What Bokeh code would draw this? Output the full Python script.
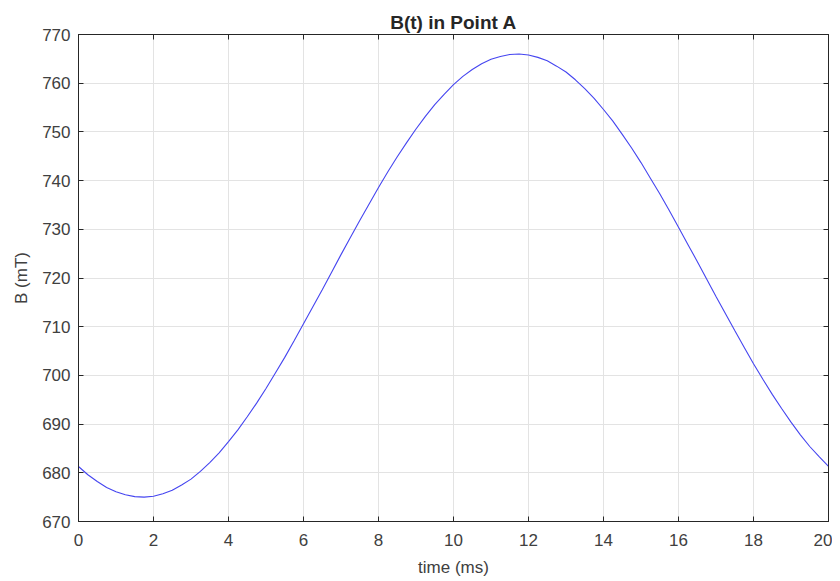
from bokeh.plotting import figure
from bokeh.models import LinearAxis, Range1d, FixedTicker, CustomJSTickFormatter
from bokeh.embed import file_html
from bokeh.resources import INLINE

time_ms = [0, 0.25, 0.5, 0.75, 1, 1.25, 1.5, 1.75, 2, 2.25, 2.5, 2.75, 3, 3.25, 3.5, 3.75,
           4, 4.25, 4.5, 4.75, 5, 5.25, 5.5, 5.75, 6, 6.25, 6.5, 6.75, 7, 7.25, 7.5, 7.75,
           8, 8.25, 8.5, 8.75, 9, 9.25, 9.5, 9.75, 10, 10.25, 10.5, 10.75, 11, 11.25, 11.5,
           11.75, 12, 12.25, 12.5, 12.75, 13, 13.25, 13.5, 13.75, 14, 14.25, 14.5, 14.75,
           15, 15.25, 15.5, 15.75, 16, 16.25, 16.5, 16.75, 17, 17.25, 17.5, 17.75, 18, 18.25,
           18.5, 18.75, 19, 19.25, 19.5, 19.75, 20]
b_mT = [681.3, 679.6, 678.2, 677.0, 676.1, 675.5, 675.1, 675.0, 675.2, 675.7, 676.4, 677.5,
        678.7, 680.3, 682.1, 684.1, 686.4, 688.8, 691.5, 694.3, 697.3, 700.5, 703.7, 707.1,
        710.6, 714.1, 717.6, 721.2, 724.8, 728.3, 731.8, 735.2, 738.6, 741.8, 744.9, 747.8,
        750.6, 753.2, 755.6, 757.7, 759.7, 761.4, 762.8, 764.0, 764.9, 765.5, 765.9, 766.0,
        765.8, 765.3, 764.6, 763.5, 762.3, 760.7, 758.9, 756.9, 754.6, 752.2, 749.5, 746.7,
        743.7, 740.5, 737.3, 733.9, 730.4, 726.9, 723.4, 719.8, 716.2, 712.7, 709.2, 705.8,
        702.4, 699.2, 696.1, 693.2, 690.4, 687.8, 685.4, 683.3, 681.3]
x_ticks = [0, 2, 4, 6, 8, 10, 12, 14, 16, 18, 20]
y_ticks = [670, 680, 690, 700, 710, 720, 730, 740, 750, 760, 770]

FONT = "Liberation Sans"
AX = "#262626"
LBL = "#404040"

p = figure(frame_width=750, frame_height=487, output_backend="svg", toolbar_location=None,
           x_range=Range1d(0, 20), y_range=Range1d(670, 770),
           min_border_left=78, min_border_right=4, min_border_top=34, min_border_bottom=59,
           title="B(t) in Point A")
p.title.align = "center"
p.title.text_font = FONT
p.title.text_font_size = "19px"
p.title.text_font_style = "bold"
p.title.text_color = AX
p.title.standoff = 4

p.outline_line_color = AX
p.outline_line_width = 1

for ax in (p.xaxis[0], p.yaxis[0]):
    ax.major_tick_in = 5
    ax.major_tick_out = 0
    ax.minor_tick_in = 0
    ax.minor_tick_out = 0
    ax.axis_line_color = AX
    ax.major_tick_line_color = AX
    ax.major_label_text_font = FONT
    ax.major_label_text_font_size = "17px"
    ax.major_label_text_color = LBL
    ax.axis_label_text_font = FONT
    ax.axis_label_text_font_size = "17px"
    ax.axis_label_text_font_style = "normal"
    ax.axis_label_text_color = LBL

p.xaxis[0].ticker = FixedTicker(ticks=x_ticks)
p.yaxis[0].ticker = FixedTicker(ticks=y_ticks)
p.xaxis[0].axis_label = "time (ms)"
p.yaxis[0].axis_label = "B (mT)"
p.xaxis[0].major_label_standoff = 12
p.yaxis[0].major_label_standoff = 8
p.xaxis[0].axis_label_standoff = 9
p.yaxis[0].axis_label_standoff = 8

blank = CustomJSTickFormatter(code="return '';")
top = LinearAxis(ticker=FixedTicker(ticks=x_ticks), formatter=blank,
                 major_tick_in=5, major_tick_out=0, minor_tick_in=0, minor_tick_out=0,
                 axis_line_color=AX, major_tick_line_color=AX, major_label_standoff=0)
right = LinearAxis(ticker=FixedTicker(ticks=y_ticks), formatter=blank,
                   major_tick_in=5, major_tick_out=0, minor_tick_in=0, minor_tick_out=0,
                   axis_line_color=AX, major_tick_line_color=AX, major_label_standoff=0)
p.add_layout(top, "above")
p.add_layout(right, "right")

p.xgrid.ticker = FixedTicker(ticks=x_ticks)
p.ygrid.ticker = FixedTicker(ticks=y_ticks)
p.xgrid.grid_line_color = "#e3e3e3"
p.ygrid.grid_line_color = "#e3e3e3"

p.line(time_ms, b_mT, line_color="#4545f0", line_width=1.1)

open("out.html", "w").write(file_html(p, INLINE))
